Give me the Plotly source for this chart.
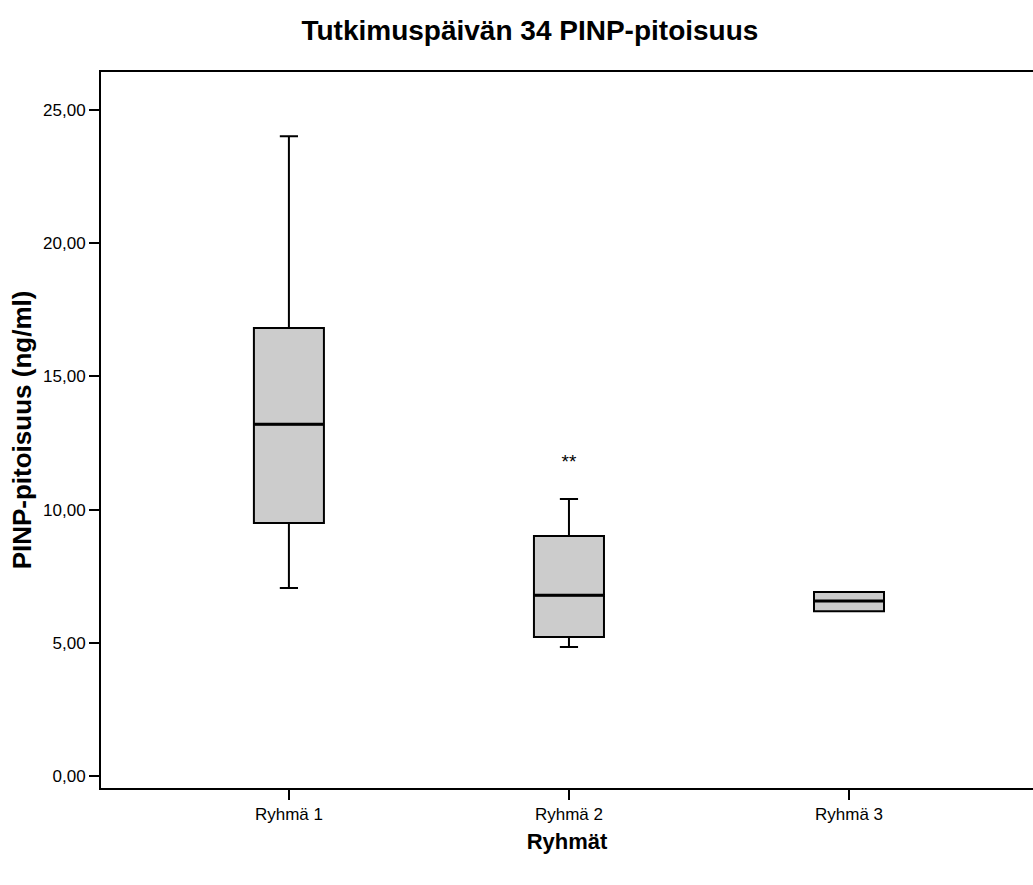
import plotly.graph_objects as go

groups = ["Ryhmä 1", "Ryhmä 2", "Ryhmä 3"]
positions = [0, 1, 2]
lower_whisker = [7.06, 4.84, 6.19]
q1 = [9.50, 5.22, 6.19]
median = [13.21, 6.79, 6.57]
q3 = [16.82, 9.01, 6.91]
upper_whisker = [24.02, 10.40, 6.91]
extreme_group = [1]
extreme_value = [11.75]
extreme_label = ["**"]

y_ticks = [0, 5, 10, 15, 20, 25]

fig = go.Figure()
for i, g in enumerate(groups):
    fig.add_trace(go.Box(
        x=[positions[i]],
        q1=[q1[i]], median=[median[i]], q3=[q3[i]],
        lowerfence=[lower_whisker[i]], upperfence=[upper_whisker[i]],
        name=g, width=0.25, whiskerwidth=0.26,
        fillcolor="#cccccc",
        line=dict(color="black", width=2),
        boxpoints=False, hoverinfo="skip", showlegend=False,
    ))
    # thicker median line
    fig.add_trace(go.Scatter(
        x=[positions[i] - 0.123, positions[i] + 0.123],
        y=[median[i], median[i]],
        mode="lines", line=dict(color="black", width=3),
        showlegend=False, hoverinfo="skip",
    ))

fig.add_trace(go.Scatter(
    x=extreme_group, y=extreme_value, text=extreme_label,
    mode="text", textposition="middle center",
    textfont=dict(family="Liberation Sans, Arial", size=19, color="black"),
    showlegend=False, hoverinfo="skip",
))

fig.update_layout(
    width=1033, height=885,
    margin=dict(l=101, r=0, t=72, b=97),
    paper_bgcolor="white", plot_bgcolor="white",
    separators=", ",
    font=dict(family="Liberation Sans, Arial", color="black"),
    title=dict(text="<b>Tutkimuspäivän 34 PINP-pitoisuus</b>",
               x=0.513, xanchor="center", y=0.966, yanchor="middle",
               font=dict(size=28, color="black")),
    xaxis=dict(
        range=[-0.671, 2.657], tickvals=positions, ticktext=groups,
        showgrid=False, zeroline=False,
        showline=True, linecolor="black", linewidth=2, mirror=True,
        ticks="outside", ticklen=10, tickwidth=1.5, tickcolor="black",
        tickfont=dict(size=17),
        title=dict(text="<b>Ryhmät</b>", font=dict(size=22), standoff=10),
    ),
    yaxis=dict(
        range=[-0.45, 26.43], tickvals=y_ticks, tickformat=".2f",
        showgrid=False, zeroline=False,
        showline=True, linecolor="black", linewidth=2, mirror=False,
        ticks="outside", ticklen=10, tickwidth=1.5, tickcolor="black",
        tickfont=dict(size=17),
        title=dict(text="<b>PINP-pitoisuus (ng/ml)</b>", font=dict(size=26), standoff=4),
    ),
)

fig.write_html("out.html")
